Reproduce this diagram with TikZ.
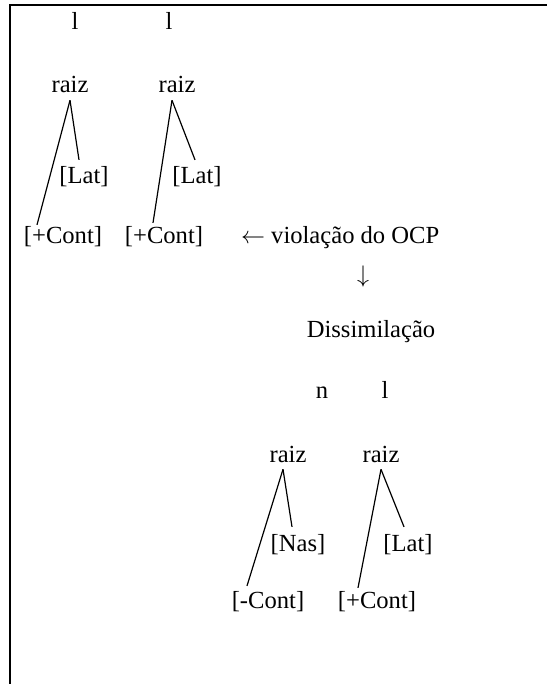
\documentclass[tikz,border=0pt]{standalone}
\usepackage{fontspec}
\setmainfont{Liberation Serif}
\usetikzlibrary{calc}

\begin{document}
\begin{tikzpicture}[x=0.5pt,y=-0.5pt,
    every node/.style={font=\fontsize{12.3}{15}\selectfont,anchor=base},
    ramo/.style={line width=0.6pt}]
      \useasboundingbox (0,0) rectangle (547,684);
      \draw[line width=1pt] (10,684) -- (10,5) -- (547,5);
      % antes: duas laterais seguidas
      \node (lA) at (75,30) {l};
      \node (lB) at (169,30) {l};
      \node (raizA) at (70,93) {raiz};
      \node (raizB) at (177,93) {raiz};
      \node (latA) at (84,184) {[Lat]};
      \node (latB) at (197,184) {[Lat]};
      \node (contA) at (63,243) {[+Cont]};
      \node (contB) at (164,243) {[+Cont]};
      \node[anchor=base west] (ocp) at (234,243) {$\leftarrow$ violação do OCP};
      \node (seta) at (363,282) {$\downarrow$};
      \node (diss) at (371,337) {Dissimilação};
      % depois: nasal + lateral
      \node (nC) at (322,398) {n};
      \node (lD) at (385,398) {l};
      \node (raizC) at (288,462) {raiz};
      \node (raizD) at (381,462) {raiz};
      \node (nasC) at (298,551) {[Nas]};
      \node (latD) at (408,551) {[Lat]};
      \node (contC) at (268,608) {[-Cont]};
      \node (contD) at (377,608) {[+Cont]};
      \draw[ramo] (raizA.south) -- ($(latA.north)+(-5,0)$);
      \draw[ramo] (raizA.south) -- ($(contA.north)+(-26,6)$);
      \draw[ramo] ($(raizB.south)+(-5,0)$) -- ($(latB.north)+(-2,0)$);
      \draw[ramo] ($(raizB.south)+(-5,0)$) -- ($(contB.north)+(-11,4)$);
      \draw[ramo] ($(raizC.south)+(-5,0)$) -- ($(nasC.north)+(-6,0)$);
      \draw[ramo] ($(raizC.south)+(-5,0)$) -- ($(contC.north)+(-21,2)$);
      \draw[ramo] (raizD.south) -- ($(latD.north)+(-4,0)$);
      \draw[ramo] (raizD.south) -- ($(contD.north)+(-19,4)$);
    \end{tikzpicture}
\end{document}
